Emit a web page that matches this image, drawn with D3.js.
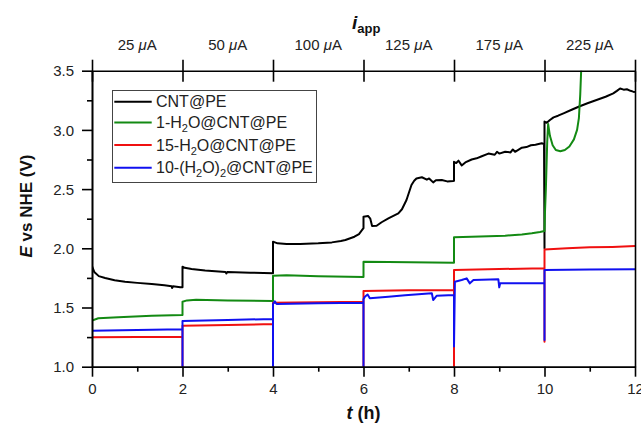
<!DOCTYPE html>
<html>
<head>
<meta charset="utf-8">
<script src="https://cdn.jsdelivr.net/npm/d3@7"></script>
<style>
  html, body { margin: 0; padding: 0; background: #fff; }
  svg { display: block; font-family: "Liberation Sans", Arial, sans-serif; }
</style>
</head>
<body>
<div id="chart"></div>
<script>
// ---------------- data ----------------
const currentLabels = ["25", "50", "100", "125", "175", "225"];   // µA, one per 2 h step
const stepEdges = [0, 2, 4, 6, 8, 10, 12];
const yTicks = [1.0, 1.5, 2.0, 2.5, 3.0, 3.5];
const xTicks = [0, 2, 4, 6, 8, 10, 12];
const seriesNames = ["CNT@PE", "1-H2O@CNT@PE", "15-H2O@CNT@PE", "10-(H2O)2@CNT@PE"];

// [t (h), E (V)]
const cntPE = [
  [0,1.85],[0.05,1.80],[0.15,1.765],[0.29,1.749],[0.5,1.73],[0.73,1.718],[1.0,1.708],[1.32,1.698],[1.6,1.688],
  [1.76,1.68],[1.77,1.665],[1.79,1.68],[1.95,1.672],[2.0,1.671],
  [2.0,1.845],[2.05,1.835],[2.2,1.825],[2.5,1.812],[2.95,1.80],[2.97,1.788],[2.99,1.80],[3.5,1.794],[4.0,1.79],
  [4.0,2.056],[4.1,2.042],[4.3,2.036],[4.6,2.036],[5.0,2.042],[5.3,2.05],[5.5,2.062],[5.6,2.07],[5.8,2.098],
  [5.9,2.12],[5.97,2.155],[6.0,2.17],
  [6.0,2.267],[6.1,2.273],[6.15,2.25],[6.19,2.188],[6.29,2.19],[6.4,2.22],[6.55,2.253],[6.77,2.295],[6.85,2.33],
  [6.95,2.408],[7.06,2.535],[7.12,2.57],[7.17,2.59],[7.29,2.60],[7.4,2.58],[7.45,2.59],[7.54,2.557],[7.6,2.575],
  [7.73,2.577],[7.85,2.565],[7.98,2.568],[8.0,2.57],
  [8.0,2.73],[8.05,2.72],[8.1,2.74],[8.17,2.70],[8.25,2.725],[8.39,2.75],[8.5,2.76],[8.6,2.775],[8.76,2.80],
  [8.9,2.79],[8.95,2.815],[9.0,2.80],[9.13,2.816],[9.25,2.81],[9.3,2.835],[9.35,2.815],[9.5,2.85],[9.6,2.855],
  [9.7,2.87],[9.8,2.875],[9.94,2.887],[9.99,2.88],
  [10.0,2.0],[10.0,3.07],[10.05,3.06],[10.12,3.084],[10.2,3.106],[10.3,3.12],[10.42,3.14],[10.6,3.17],[10.78,3.20],
  [10.95,3.225],[11.15,3.253],[11.35,3.28],[11.52,3.309],[11.6,3.33],[11.67,3.35],[11.75,3.34],[11.82,3.343],
  [11.9,3.33],[11.96,3.323],[12.0,3.32]
];
const h2oCNT = [
  [0,1.0],[0,1.389],[0.14,1.409],[0.58,1.417],[1.32,1.431],[2.0,1.437],
  [2.0,1.549],[2.1,1.56],[2.3,1.565],[3.0,1.56],[4.0,1.555],
  [4.0,1.769],[4.3,1.772],[5.0,1.763],[6.0,1.757],
  [6.0,1.887],[6.55,1.884],[8.0,1.879],
  [8.0,2.093],[8.39,2.098],[9.13,2.107],[9.5,2.116],[9.72,2.127],[9.9,2.138],[10.0,2.146],
  [10.01,2.3],[10.03,2.5],[10.06,2.9],[10.08,3.05],[10.12,2.95],[10.18,2.87],[10.25,2.83],[10.35,2.82],
  [10.45,2.83],[10.55,2.86],[10.65,2.92],[10.72,3.0],[10.76,3.1],[10.79,3.3],[10.82,3.6]
];
const h2o15CNT = [
  [0,1.0],[0,1.248],[1.0,1.25],[2.0,1.253],
  [2.0,1.0],[2.0,1.346],[3.0,1.353],[4.0,1.36],
  [4.0,1.0],[4.0,1.54],[5.0,1.545],[6.0,1.549],
  [6.0,1.0],[6.0,1.64],[7.0,1.645],[8.0,1.648],
  [8.0,1.0],[8.0,1.817],[9.0,1.825],[10.0,1.831],
  [10.0,1.21],[10.0,1.99],[10.5,2.0],[11.0,2.008],[11.5,2.012],[12.0,2.019]
];
const h2o2CNT = [
  [0,1.0],[0,1.304],[1.0,1.31],[2.0,1.316],
  [2.0,1.0],[2.0,1.386],[3.0,1.395],[4.0,1.403],
  [4.0,1.0],[4.0,1.53],[4.04,1.552],[4.08,1.53],[5.0,1.535],[6.0,1.54],
  [6.0,1.0],[6.0,1.57],[6.03,1.591],[6.09,1.61],[6.14,1.578],[6.55,1.591],[6.92,1.603],[7.51,1.62],[7.54,1.563],
  [7.62,1.6],[8.0,1.606],
  [8.0,1.17],[8.02,1.718],[8.17,1.732],[8.28,1.746],[8.35,1.704],[8.43,1.732],[8.98,1.738],[9.0,1.67],[9.02,1.704],
  [9.5,1.704],[10.0,1.704],
  [10.0,1.225],[10.0,1.817],[11.0,1.82],[12.0,1.823]
];

// ---------------- layout ----------------
const W = 641, H = 434;
const X0 = 92, X1 = 635, Y0 = 366.7, Y1 = 70.7;
const colors = ["#000000", "#138a13", "#f01010", "#1010f0"];
const font = '"Liberation Sans", Arial, sans-serif';

const svg = d3.select("#chart").append("svg").attr("width", W).attr("height", H);

const x = d3.scaleLinear().domain([0, 12]).range([X0, X1]);
const y = d3.scaleLinear().domain([1, 3.5]).range([Y0, Y1]);

svg.append("clipPath").attr("id", "clip")
  .append("rect").attr("x", X0).attr("y", Y1).attr("width", X1 - X0).attr("height", Y0 - Y1);

// data lines
const line = d3.line().x(d => x(d[0])).y(d => y(d[1]));
const allSeries = [cntPE, h2oCNT, h2o15CNT, h2o2CNT];
const plot = svg.append("g").attr("clip-path", "url(#clip)");
allSeries.forEach((s, i) => {
  plot.append("path").datum(s).attr("d", line)
    .attr("fill", "none").attr("stroke", colors[i]).attr("stroke-width", 2)
    .attr("stroke-linejoin", "round");
});

// axes
function styleAxis(g) {
  g.select(".domain").attr("stroke", "#000").attr("stroke-width", 1.6);
  g.selectAll(".tick line").attr("stroke", "#000").attr("stroke-width", 1.6);
  g.selectAll(".tick text").attr("fill", "#222").attr("font-size", 15).attr("font-family", font);
}

// left axis
const yMinor = d3.range(1.25, 3.5, 0.5);
svg.append("g").attr("transform", `translate(${X0},0)`)
  .call(d3.axisLeft(y).tickValues(yMinor).tickSize(5).tickFormat("").tickSizeOuter(0))
  .call(styleAxis);
svg.append("g").attr("transform", `translate(${X0},0)`)
  .call(d3.axisLeft(y).tickValues(yTicks).tickSize(10).tickPadding(8).tickFormat(d3.format(".1f")).tickSizeOuter(0))
  .call(styleAxis)
  .selectAll(".tick text").attr("dy", "0.34em");

// bottom axis
const xMinor = d3.range(1, 12, 2);
svg.append("g").attr("transform", `translate(0,${Y0})`)
  .call(d3.axisBottom(x).tickValues(xMinor).tickSize(5).tickFormat("").tickSizeOuter(0))
  .call(styleAxis);
svg.append("g").attr("transform", `translate(0,${Y0})`)
  .call(d3.axisBottom(x).tickValues(xTicks).tickSize(10).tickPadding(7).tickFormat(d3.format("d")).tickSizeOuter(0))
  .call(styleAxis);

// right axis (line only)
svg.append("g").attr("transform", `translate(${X1},0)`)
  .call(d3.axisRight(y).tickValues([]).tickSizeOuter(0))
  .call(styleAxis);

// top axis: current steps, crossing ticks
const topAx = svg.append("g").attr("transform", `translate(0,${Y1})`)
  .call(d3.axisTop(x).tickValues(stepEdges).tickSize(11).tickFormat("").tickSizeOuter(0))
  .call(styleAxis);
topAx.selectAll(".tick line").attr("y1", 11).attr("y2", -11);

const topLabels = svg.append("g");
currentLabels.forEach((lab, i) => {
  const t = topLabels.append("text")
    .attr("x", x((stepEdges[i] + stepEdges[i + 1]) / 2)).attr("y", 50)
    .attr("text-anchor", "middle").attr("font-size", 15).attr("fill", "#222");
  t.append("tspan").text(lab + " ");
  t.append("tspan").attr("font-style", "italic").text("\u03BC");
  t.append("tspan").text("A");
});

// top title i_app
const iapp = svg.append("text").attr("x", 352).attr("y", 29)
  .attr("font-weight", "bold").attr("fill", "#111");
iapp.append("tspan").attr("font-style", "italic").attr("font-size", 19).text("i");
iapp.append("tspan").attr("font-size", 13).attr("dy", 4).text("app");

// x title
const xt = svg.append("text").attr("x", x(6)).attr("y", 419)
  .attr("text-anchor", "middle").attr("font-weight", "bold").attr("font-size", 18).attr("fill", "#111");
xt.append("tspan").attr("font-style", "italic").text("t");
xt.append("tspan").text(" (h)");

// y title
const yt = svg.append("text").attr("transform", "translate(32,206) rotate(-90)")
  .attr("text-anchor", "middle").attr("font-weight", "bold").attr("font-size", 17).attr("fill", "#111");
yt.append("tspan").attr("font-style", "italic").text("E");
yt.append("tspan").text(" vs NHE (V)");

// legend
const lg = svg.append("g");
lg.append("rect").attr("x", 112.5).attr("y", 90.5).attr("width", 204).attr("height", 92)
  .attr("fill", "#fff").attr("stroke", "#444").attr("stroke-width", 1);
const rowY = [101.7, 122.5, 145, 167.7];
function addLabel(t, name) {
  if (name === "CNT@PE") { t.append("tspan").text(name); return; }
  if (name === "1-H2O@CNT@PE" || name === "15-H2O@CNT@PE") {
    const pre = name.split("H2O")[0];
    t.append("tspan").text(pre + "H");
    t.append("tspan").attr("font-size", 11).attr("dy", 4).text("2");
    t.append("tspan").attr("dy", -4).text("O@CNT@PE");
    return;
  }
  t.append("tspan").text("10-(H");
  t.append("tspan").attr("font-size", 11).attr("dy", 4).text("2");
  t.append("tspan").attr("dy", -4).text("O)");
  t.append("tspan").attr("font-size", 11).attr("dy", 4).text("2");
  t.append("tspan").attr("dy", -4).text("@CNT@PE");
}
seriesNames.forEach((name, i) => {
  lg.append("line").attr("x1", 114.3).attr("x2", 151.7).attr("y1", rowY[i]).attr("y2", rowY[i])
    .attr("stroke", colors[i]).attr("stroke-width", 2);
  const t = lg.append("text").attr("x", 156).attr("y", rowY[i] + 5.6)
    .attr("font-size", 16).attr("fill", "#222");
  addLabel(t, name);
});
</script>
</body>
</html>
